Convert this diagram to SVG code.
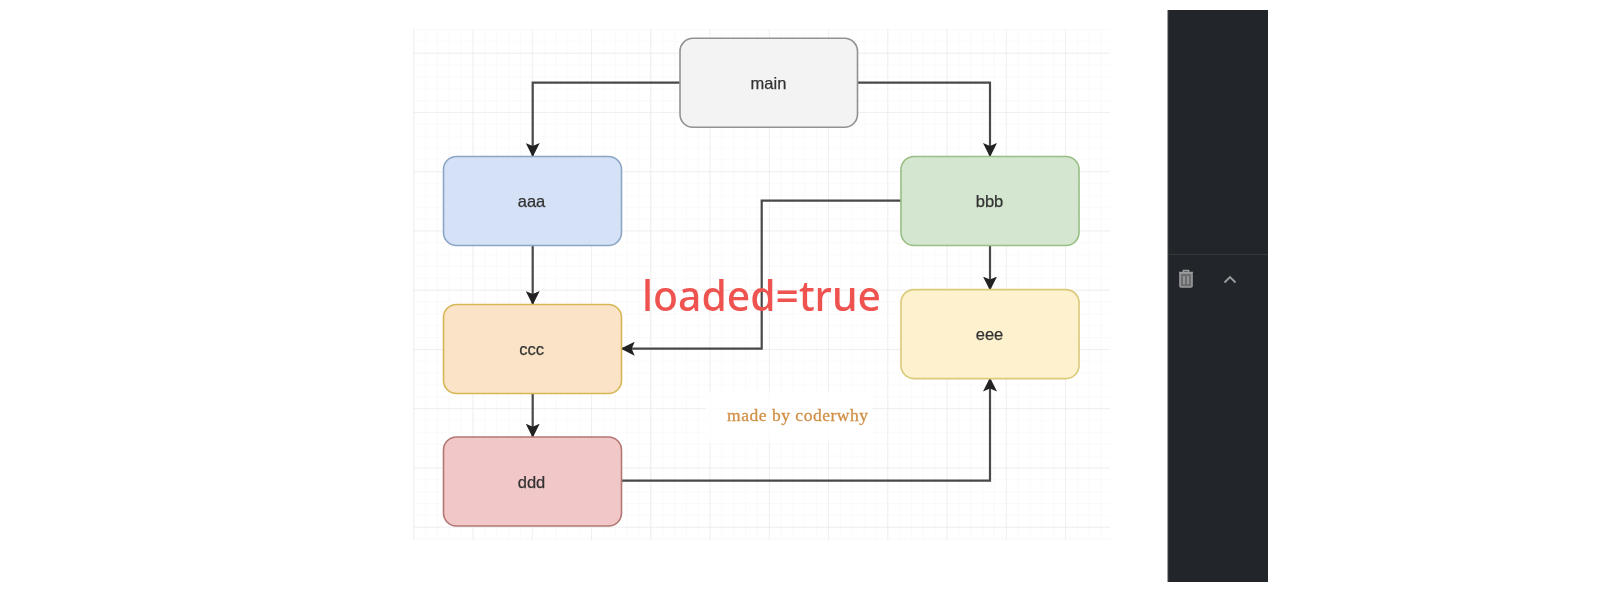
<svg xmlns="http://www.w3.org/2000/svg" width="1622" height="613" viewBox="0 0 1622 613">
<style>
.node{stroke-width:1.6}
.lbl{font-family:"Liberation Sans",Arial,sans-serif;font-size:16.5px;text-anchor:middle;fill:#333;stroke:#333;stroke-width:0.25}
.conn{fill:none;stroke:#484848;stroke-width:2.2}
</style>
<defs>
<filter id="soft" x="-5%" y="-5%" width="110%" height="110%"><feGaussianBlur stdDeviation="0.7"/></filter>
<marker id="arrow" viewBox="0 0 14 14" markerUnits="userSpaceOnUse" markerWidth="14" markerHeight="14" refX="13" refY="7" orient="auto">
<path d="M0 0 L14 7 L0 14 L3 7 Z" fill="#222"/>
</marker>
<pattern id="minor" x="413.3" y="52.7" width="11.85" height="11.85" patternUnits="userSpaceOnUse">
<path d="M0 0H11.85M0 0V11.85" fill="none" stroke="#f6f6f6" stroke-width="1"/>
</pattern>
<pattern id="major" x="413.3" y="52.7" width="59.25" height="59.25" patternUnits="userSpaceOnUse">
<path d="M0 0H59.25M0 0V59.25" fill="none" stroke="#ebebeb" stroke-width="1.5"/>
</pattern>
</defs>
<rect width="1622" height="613" fill="#fff"/>
<g id="grid" filter="url(#soft)">
<rect x="413" y="29" width="697" height="511" fill="url(#minor)"/>
<rect x="413" y="29" width="697" height="511" fill="url(#major)"/>
</g>
<g id="watermark-patch" filter="url(#soft)">
<rect x="706" y="392" width="166" height="50" fill="#fff" fill-opacity="0.8"/>
</g>
<g id="connectors" filter="url(#soft)">
<path class="conn" d="M680 82.7H532.7V156" marker-end="url(#arrow)"/>
<path class="conn" d="M857.5 82.7H990V156" marker-end="url(#arrow)"/>
<path class="conn" d="M532.7 245.7V304" marker-end="url(#arrow)"/>
<path class="conn" d="M532.7 393.3V436.7" marker-end="url(#arrow)"/>
<path class="conn" d="M990 245.7V289.6" marker-end="url(#arrow)"/>
<path class="conn" d="M901 200.7H761.7V348.7H621.7" marker-end="url(#arrow)"/>
<path class="conn" d="M621.7 480.7H990V378.6" marker-end="url(#arrow)"/>
</g>
<g id="main" filter="url(#soft)">
<rect class="node" x="680" y="38.3" width="177.5" height="89" rx="13" fill="#f3f3f3" stroke="#929292"/>
<text class="lbl" x="768.5" y="88.8">main</text>
</g>
<g id="aaa" filter="url(#soft)">
<rect class="node" x="443.5" y="156.5" width="178" height="89" rx="13" fill="#d4e1f6" stroke="#8ba5c4"/>
<text class="lbl" x="531.5" y="207">aaa</text>
</g>
<g id="bbb" filter="url(#soft)">
<rect class="node" x="901" y="156.5" width="178" height="89" rx="13" fill="#d4e6d0" stroke="#98bf85"/>
<text class="lbl" x="989.5" y="207">bbb</text>
</g>
<g id="ccc" filter="url(#soft)">
<rect class="node" x="443.5" y="304.5" width="178" height="89" rx="13" fill="#fae3c6" stroke="#d6b655"/>
<text class="lbl" x="531.5" y="355">ccc</text>
</g>
<g id="eee" filter="url(#soft)">
<rect class="node" x="901" y="289.6" width="178" height="89" rx="13" fill="#fdf2cd" stroke="#dbc97a"/>
<text class="lbl" x="989.5" y="340">eee</text>
</g>
<g id="ddd" filter="url(#soft)">
<rect class="node" x="443.5" y="437" width="178" height="89" rx="13" fill="#f1c8c7" stroke="#b37774"/>
<text class="lbl" x="531.5" y="487.5">ddd</text>
</g>
<g id="labels" filter="url(#soft)">
<text x="642" y="310.5" font-family="'Noto Sans','Noto Sans CJK SC',sans-serif" font-size="41" font-weight="500" fill="#ef5350" textLength="239" lengthAdjust="spacingAndGlyphs">loaded=true</text>
<text x="727" y="421" font-family="'Liberation Serif','Times New Roman',serif" font-size="17.5" fill="#d08f45" stroke="#d08f45" stroke-width="0.3" textLength="141">made by coderwhy</text>
</g>
<g id="panel" filter="url(#soft)">
<rect x="1168" y="10" width="100" height="572" fill="#22262a"/>
<path d="M1168 10V582" stroke="#444" stroke-width="1"/>
<path d="M1168 254.5H1268" stroke="#34373b" stroke-width="1.2"/>
<g fill="none" stroke="#9a9c9e">
<rect x="1180" y="273" width="12" height="14" rx="1" fill="#6a6c6e" stroke-width="1.6"/>
<path d="M1179 272.5H1193M1183.5 272V270.5H1188.5V272M1184 276V284M1188 276V284" stroke-width="1.6"/>
<path d="M1224.5 282.5L1230 277L1235.5 282.5" stroke-width="1.8"/>
</g>
</g>
</svg>
